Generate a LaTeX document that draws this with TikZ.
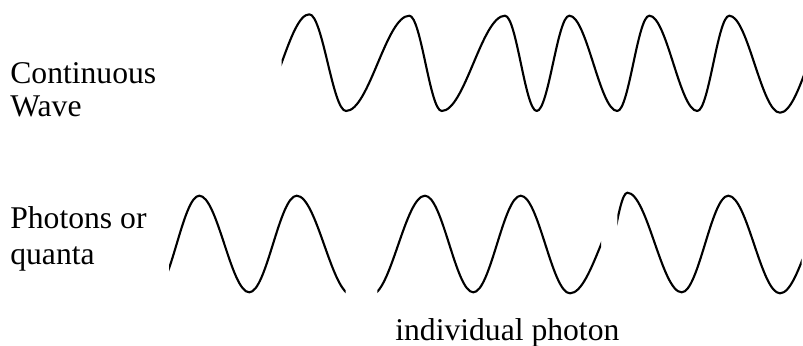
\documentclass[tikz,border=0pt]{standalone}
\usepackage{fontspec}
\setmainfont{Liberation Serif}

\begin{document}
\begin{tikzpicture}[x=0.02cm, y=-0.02cm,
		wave/.style={line width=1.2pt, line join=round},
		lbl/.style={font=\fontsize{18}{19}\selectfont, align=left, inner sep=0pt, anchor=base west}]
		\useasboundingbox (0,0) rectangle (803,345);
		
		% 文字
		\node[lbl] (cwlabel) at (10,116.7) {Continuous\\Wave};
		\node[lbl] (phlabel) at (10,264.3) {Photons or\\[1.5pt]quanta};
		\node[lbl] (indlabel) at (395,340) {individual photon};
		
		% 连续波
		\begin{scope}
			\clip (281.7,0) rectangle (803,150);
			\draw[wave] (254.1,111) \foreach \x/\y [remember=\x as \px (initially 254.1), remember=\y as \py (initially 111)]
				in {309.3/14.3, 346/111, 409.3/15.7, 441.7/111, 505/15.7, 536.7/111, 569.3/15.7,
					617.3/111, 649.3/15.7, 697.3/111, 729.3/15.7, 780/112.7, 836/15.7}
				{ .. controls ({\px+0.364*(\x-\px)},\py) and ({\x-0.364*(\x-\px)},\y) .. (\x,\y) };
		\end{scope}
		
		% 光子 1
		\begin{scope}
			\clip (169,150) rectangle (345.7,345);
			\draw[wave] (154,292.3) \foreach \x/\y [remember=\x as \px (initially 154), remember=\y as \py (initially 292.3)]
				in {199.3/195.7, 249.3/292.3, 296.7/195.7, 352/295}
				{ .. controls ({\px+0.364*(\x-\px)},\py) and ({\x-0.364*(\x-\px)},\y) .. (\x,\y) };
		\end{scope}
		
		% 光子 2
		\begin{scope}
			\clip (377.3,150) rectangle (601,345);
			\draw[wave] (371,295) \foreach \x/\y [remember=\x as \px (initially 371), remember=\y as \py (initially 295)]
				in {425/195.7, 473.3/292.3, 520.7/195.7, 570/293.3, 632/195.7}
				{ .. controls ({\px+0.364*(\x-\px)},\py) and ({\x-0.364*(\x-\px)},\y) .. (\x,\y) };
		\end{scope}
		
		% 光子 3
		\begin{scope}
			\clip (617.3,150) rectangle (801.7,345);
			\draw[wave] (599,292.3) \foreach \x/\y [remember=\x as \px (initially 599), remember=\y as \py (initially 292.3)]
				in {627.3/192.7, 681.7/292.3, 728.3/195.7, 780/293.3, 836/195.7}
				{ .. controls ({\px+0.364*(\x-\px)},\py) and ({\x-0.364*(\x-\px)},\y) .. (\x,\y) };
		\end{scope}
	\end{tikzpicture}
\end{document}
